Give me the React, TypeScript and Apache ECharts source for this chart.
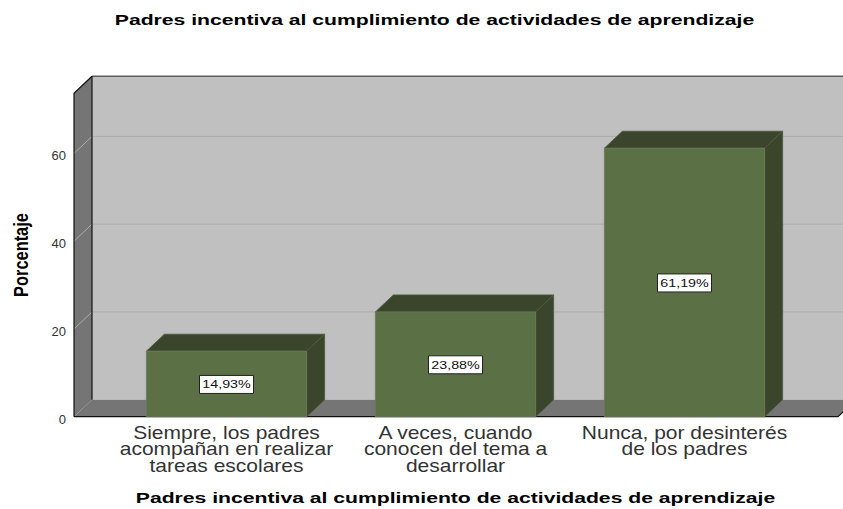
import React, { useEffect, useRef } from "react";
import * as echarts from "echarts";

const chartTitle = "Padres incentiva al cumplimiento de actividades de aprendizaje";
const yName = "Porcentaje";
const categories = [
  "Siempre, los padres\nacompañan en realizar\ntareas escolares",
  "A veces, cuando\nconocen del tema a\ndesarrollar",
  "Nunca, por desinterés\nde los padres",
];
const values = [14.93, 23.88, 61.19];
const valueLabels = ["14,93%", "23,88%", "61,19%"];
const gridTicks = [20, 40, 60];
const axisMax = 73.7;

const FONT = '"Liberation Sans", Arial, sans-serif';
const DX = 18;
const DY = 17;

export default function App() {
  const ref = useRef<HTMLDivElement>(null);
  useEffect(() => {
    document.body.style.margin = "0";
    const chart = echarts.init(ref.current!, null, { renderer: "svg" });
    const gridLeft = 112;
    const gridRight = 799;
    const frontLeft = 74;
    const frontRight = 838;

    const renderWalls = (_p: any, api: any) => {
      const y0 = api.coord([0, 0])[1];
      const yTop = api.coord([0, axisMax])[1];
      const children: any[] = [
        { type: "polygon", shape: { points: [[frontLeft + DX, yTop - DY], [frontRight + DX, yTop - DY], [frontRight + DX, y0 - DY], [frontLeft + DX, y0 - DY]] }, style: { fill: "#C0C0C0" } },
        { type: "polygon", shape: { points: [[frontLeft, yTop], [frontLeft + DX, yTop - DY], [frontLeft + DX, y0 - DY], [frontLeft, y0]] }, style: { fill: "#757575" } },
        { type: "polygon", shape: { points: [[frontLeft, y0], [frontLeft + DX, y0 - DY], [frontRight + DX, y0 - DY], [frontRight, y0]] }, style: { fill: "#757575" } },
      ];
      gridTicks.forEach((t) => {
        const y = api.coord([0, t])[1];
        children.push({ type: "polyline", shape: { points: [[frontLeft, y], [frontLeft + DX, y - DY], [frontRight + DX, y - DY]] }, style: { fill: "none", stroke: "#ABABAB", lineWidth: 1 } });
      });
      const line = (pts: number[][], stroke: string, lineWidth = 1.2) => ({ type: "polyline", shape: { points: pts }, style: { fill: "none", stroke, lineWidth } });
      children.push(line([[frontLeft + DX, yTop - DY], [frontRight + DX, yTop - DY]], "#5E5E5E", 1.4));
      children.push(line([[frontLeft + DX, yTop - DY], [frontLeft + DX, y0 - DY]], "#111111"));
      children.push(line([[frontLeft, y0], [frontLeft, yTop], [frontLeft + DX, yTop - DY]], "#111111"));
      children.push(line([[frontLeft, y0], [frontRight, y0], [frontRight + DX, y0 - DY]], "#111111"));
      return { type: "group", children };
    };

    const renderBar = (_p: any, api: any) => {
      const i = api.value(0);
      const v = api.value(1);
      const [cx, yT] = api.coord([i, v]);
      const y0 = api.coord([i, 0])[1];
      const w = api.size([1, 0])[0] * 0.7;
      const l = cx - w / 2;
      const r = cx + w / 2;
      const edge = "#4E5A3E";
      const mid = (yT + y0) / 2 + 0.5;
      return {
        type: "group",
        children: [
          { type: "polygon", shape: { points: [[l, yT], [l + DX, yT - DY], [r + DX, yT - DY], [r, yT]] }, style: { fill: "#3A452B", stroke: edge, lineWidth: 0.8 } },
          { type: "polygon", shape: { points: [[r, yT], [r + DX, yT - DY], [r + DX, y0 - DY], [r, y0]] }, style: { fill: "#3A452B", stroke: edge, lineWidth: 0.8 } },
          { type: "rect", shape: { x: l, y: yT, width: w, height: y0 - yT }, style: { fill: "#5B7045", stroke: "#6B7B5A", lineWidth: 0.8 } },
          { type: "rect", shape: { x: cx - 27, y: mid - 9, width: 54, height: 18 }, style: { fill: "#FFFFFF", stroke: "#222222", lineWidth: 1 } },
          { type: "text", x: cx, y: mid, scaleX: 1.3, style: { text: valueLabels[i], x: 0, y: 0, align: "center", verticalAlign: "middle", font: `11px ${FONT}`, fill: "#111111" } },
          { type: "text", x: cx, y: y0 + 8, scaleX: 1.2, style: { text: categories[i], x: 0, y: 0, align: "center", verticalAlign: "top", lineHeight: 16.5, font: `17.5px ${FONT}`, fill: "#333333" } },
        ],
      };
    };

    chart.setOption({
      animation: false,
      backgroundColor: "#FFFFFF",
      grid: { left: gridLeft, width: gridRight - gridLeft, top: 93.3, height: 323.4 },
      xAxis: { type: "category", data: categories, axisLine: { show: false }, axisTick: { show: false }, axisLabel: { show: false } },
      yAxis: {
        type: "value", min: 0, max: axisMax, interval: 20, offset: 38,
        axisLine: { show: false }, axisTick: { show: false }, splitLine: { show: false },
        axisLabel: {
          showMaxLabel: false, margin: 8, formatter: "{t|{value}}",
          rich: { t: { color: "#333333", fontFamily: FONT, fontSize: 13, padding: [5, 0, 0, 0] } },
        },
      },
      series: [
        { type: "custom", data: [[0, 0]], renderItem: renderWalls, silent: true, z: 1 },
        { type: "custom", data: values.map((v, i) => [i, v]), renderItem: renderBar, silent: true, z: 2, encode: { x: 0, y: 1 } },
      ],
      graphic: [
        { type: "text", x: 434.5, y: 20.5, scaleX: 1.46, style: { text: chartTitle, x: 0, y: 0, align: "center", verticalAlign: "middle", font: `bold 14.5px ${FONT}`, fill: "#000000" } },
        { type: "text", x: 455.5, y: 498.5, scaleX: 1.46, style: { text: chartTitle, x: 0, y: 0, align: "center", verticalAlign: "middle", font: `bold 14.5px ${FONT}`, fill: "#000000" } },
        { type: "text", x: 21, y: 255, rotation: Math.PI / 2, scaleX: 0.82, style: { text: yName, x: 0, y: 0, align: "center", verticalAlign: "middle", font: `bold 20px ${FONT}`, fill: "#000000" } },
      ],
    });
    return () => chart.dispose();
  }, []);
  return <div ref={ref} style={{ width: 843, height: 509 }} />;
}
